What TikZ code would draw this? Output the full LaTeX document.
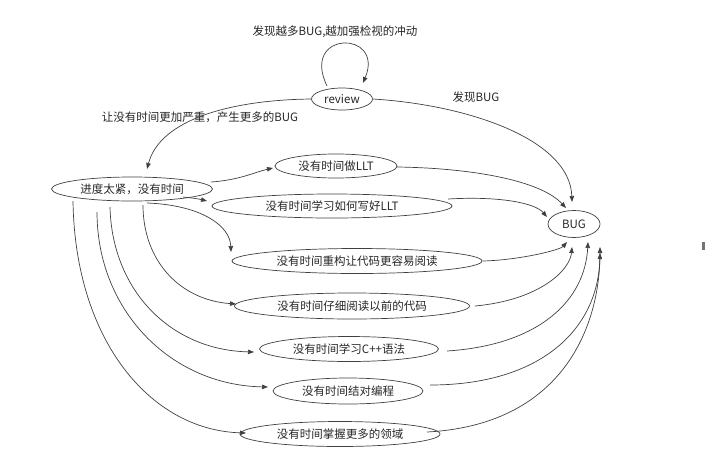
\documentclass[tikz,border=0pt]{standalone}
\usepackage{fontspec}
\setmainfont{Noto Sans CJK SC}
\usetikzlibrary{shapes.geometric,arrows.meta}
\begin{document}
\begin{tikzpicture}[x=1pt,y=-1pt,
  every node/.style={font=\fontsize{11.5pt}{13pt}\selectfont, text=black!85},
  oval/.style={ellipse, draw=black!75, line width=0.7pt, inner sep=0pt},
  arr/.style={draw=black!75, line width=0.7pt, -{Triangle[length=6pt,width=4.5pt]}},
  lbl/.style={inner sep=0pt}]
\useasboundingbox (0,0) rectangle (706,469);
% nodes
\node[oval, minimum width=61pt, minimum height=22pt] (review) at (342,99) {review};
\node[oval, minimum width=161pt, minimum height=24pt] (sched) at (132,189) {进度太紧，没有时间};
\node[oval, minimum width=122pt, minimum height=24pt] (llt) at (336,166) {没有时间做LLT};
\node[oval, minimum width=240pt, minimum height=24pt] (write) at (332,206) {没有时间学习如何写好LLT};
\node[oval, minimum width=250pt, minimum height=25pt] (refac) at (357,261) {没有时间重构让代码更容易阅读};
\node[oval, minimum width=235pt, minimum height=26pt] (read) at (352,306) {没有时间仔细阅读以前的代码};
\node[oval, minimum width=179pt, minimum height=25pt] (cpp) at (349,349) {没有时间学习C++语法};
\node[oval, minimum width=150pt, minimum height=26pt] (pair) at (348,391) {没有时间结对编程};
\node[oval, minimum width=200pt, minimum height=25pt] (dom) at (340,434) {没有时间掌握更多的领域};
\node[oval, minimum width=52pt, minimum height=27pt] (bug) at (574,224) {BUG};
% labels
\node[lbl] (l1) at (335,32) {发现越多BUG,越加强检视的冲动};
\node[lbl] (l2) at (200,117) {让没有时间更加严重，产生更多的BUG};
\node[lbl] (l3) at (476,97) {发现BUG};
% review edges
\draw[arr] ([shift={(-15,-13)}]review.center) .. controls +(-27,-56) and +(22,-53) .. ([shift={(21,-16)}]review.center);
\draw[arr] (review.west) .. controls +(-82,1) and +(13,-49) .. ([shift={(15,-20)}]sched.center);
\draw[arr] (review.east) .. controls +(97,6) and +(-2,-62) .. ([shift={(-2,-22)}]bug.center);
% schedule edges
\draw[arr] ([shift={(79,-7)}]sched.center) .. controls +(29,-2) and +(-18,4) .. ([shift={(-63,2)}]llt.center);
\draw[arr] ([shift={(51,8)}]sched.center) .. controls +(10,1) and +(-8,-2) .. ([shift={(-125,-5)}]write.center);
\draw[arr] ([shift={(15,14)}]sched.center) .. controls +(53,2) and +(-1,-27) .. ([shift={(-126,-9)}]refac.center);
\draw[arr] ([shift={(11,16)}]sched.center) .. controls +(0,56) and +(-56,-4) .. ([shift={(-116,-2)}]read.center);
\draw[arr] ([shift={(-22,18)}]sched.center) .. controls +(2,83) and +(-84,-2) .. ([shift={(-95,3)}]cpp.center);
\draw[arr] ([shift={(-35,23)}]sched.center) .. controls +(0,98) and +(-98,-2) .. ([shift={(-80,-4)}]pair.center);
\draw[arr] ([shift={(-59,12)}]sched.center) .. controls +(2,139) and +(-96,-3) .. ([shift={(-94,-1)}]dom.center);
% edges to BUG
\draw[arr] ([shift={(61,1)}]llt.center) .. controls +(73,1) and +(-26,-28) .. ([shift={(-8,-16)}]bug.center);
\draw[arr] ([shift={(116,-7)}]write.center) .. controls +(52,-3) and +(-12,-14) .. ([shift={(-27,-7)}]bug.center);
\draw[arr] ([shift={(126,0)}]refac.center) .. controls +(37,-1) and +(-7,8) .. ([shift={(-7,18)}]bug.center);
\draw[arr] ([shift={(123,0)}]read.center) .. controls +(65,-6) and +(-2,23) .. ([shift={(-2,23)}]bug.center);
\draw[arr] ([shift={(98,2)}]cpp.center) .. controls +(93,-6) and +(-3,58) .. ([shift={(14,18)}]bug.center);
\draw[arr] ([shift={(82,-6)}]pair.center) .. controls +(110,0) and +(-2,77) .. ([shift={(26,29)}]bug.center);
\draw[arr] ([shift={(87,-2)}]dom.center) .. controls +(133,-7) and +(0,83) .. ([shift={(26,23)}]bug.center);
% small grey mark at right edge
\fill[black!55] (702,242) rectangle (705,250);
\end{tikzpicture}
\end{document}
